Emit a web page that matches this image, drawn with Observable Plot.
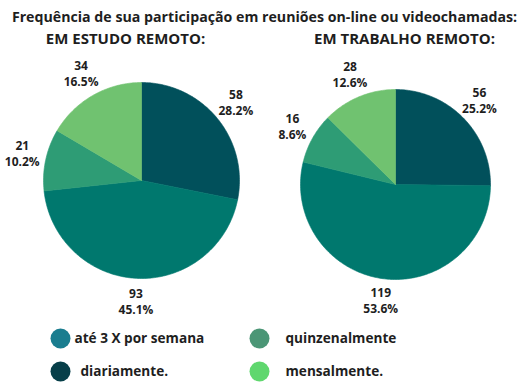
<!DOCTYPE html>
<html>
<head>
<meta charset="utf-8">
<script src="https://cdn.jsdelivr.net/npm/d3@7"></script>
<script src="https://cdn.jsdelivr.net/npm/@observablehq/plot@0.6"></script>
<style>
  html, body { margin: 0; padding: 0; background: #ffffff; }
  svg { display: block; }
</style>
</head>
<body>
<div id="chart"></div>
<script>
// ---- data ----
const title = "Frequência de sua participação em reuniões on-line ou videochamadas:";
const categories = ["diariamente.", "até 3 X por semana", "quinzenalmente", "mensalmente."];
const estudoValues = [58, 93, 21, 34];
const estudoPct = ["28.2%", "45.1%", "10.2%", "16.5%"];
const trabalhoValues = [56, 119, 16, 28];
const trabalhoPct = ["25.2%", "53.6%", "8.6%", "12.6%"];
const trabalhoShare = [25.2, 53.6, 8.6, 12.6];
const sliceColors = ["#01505b", "#00786e", "#2e9c75", "#70c270"];
const legendOrder = ["até 3 X por semana", "quinzenalmente", "diariamente.", "mensalmente."];
const legendColors = ["#1a7d8f", "#4b9676", "#073f49", "#5fd76e"];
const pieTitles = ["EM ESTUDO REMOTO:", "EM TRABALHO REMOTO:"];

// ---- layout ----
const W = 528, H = 392;
const font = "Open Sans";
const pies = [
  {name: pieTitles[0], cx: 141, cy: 180, r: 98, lab: 24, tx: 125, shares: estudoValues, values: estudoValues, pct: estudoPct},
  {name: pieTitles[1], cx: 395, cy: 184, r: 95, lab: 23, tx: 404, shares: trabalhoShare, values: trabalhoValues, pct: trabalhoPct}
];

const slicePts = [];
const labels = [];
pies.forEach((p, pi) => {
  const arcs = d3.pie().sort(null).value(d => d)(p.shares);
  arcs.forEach((a, i) => {
    const id = pi + "-" + i;
    slicePts.push({id, cat: categories[i], x: p.cx, y: p.cy});
    const n = Math.max(2, Math.ceil((a.endAngle - a.startAngle) / (Math.PI / 180)));
    for (let k = 0; k <= n; k++) {
      const t = a.startAngle + (a.endAngle - a.startAngle) * k / n;
      slicePts.push({id, cat: categories[i], x: p.cx + p.r * Math.sin(t), y: p.cy - p.r * Math.cos(t)});
    }
    slicePts.push({id, cat: categories[i], x: p.cx, y: p.cy});
    const m = (a.startAngle + a.endAngle) / 2;
    const lr = p.r + p.lab;
    labels.push({x: p.cx + lr * Math.sin(m), y: p.cy - lr * Math.cos(m), v: String(p.values[i]), pc: p.pct[i]});
  });
});

const titles = [
  {x: W / 2, y: 17, t: title, s: 14.2},
  {x: pies[0].tx, y: 39, t: pies[0].name, s: 15},
  {x: pies[1].tx, y: 39, t: pies[1].name, s: 15}
];

const legend = legendOrder.map((c, i) => ({
  cat: c,
  color: legendColors[i],
  x: i % 2 === 0 ? 60 : 259,
  y: i < 2 ? 338 : 371,
  tx: i % 2 === 0 ? (i === 0 ? 74 : 80) : 285
}));

const chart = Plot.plot({
  width: W,
  height: H,
  margin: 0,
  x: {domain: [0, W], range: [0, W], axis: null},
  y: {domain: [0, H], range: [0, H], axis: null},
  color: {domain: categories, range: sliceColors},
  style: {fontFamily: font, background: "#ffffff"},
  marks: [
    Plot.line(slicePts, {x: "x", y: "y", z: "id", fill: "cat", stroke: "cat", strokeWidth: 0.6, curve: "linear"}),
    Plot.text(titles, {x: "x", y: "y", text: "t", fontSize: "s", fontWeight: "bold", fill: "#1e1e1e", textAnchor: "middle"}),
    Plot.text(labels, {x: "x", y: "y", dy: -8, text: "v", fontSize: 12, fontWeight: "bold", fill: "#1e1e1e"}),
    Plot.text(labels, {x: "x", y: "y", dy: 8, text: "pc", fontSize: 12, fontWeight: "bold", fill: "#1e1e1e"}),
    Plot.dot(legend, {x: "x", y: "y", r: 10, fill: "color", stroke: null}),
    Plot.text(legend, {x: "tx", y: "y", text: "cat", fontSize: 13.6, fontWeight: "bold", fill: "#1e1e1e", textAnchor: "start"})
  ]
});
document.getElementById("chart").appendChild(chart);
</script>
</body>
</html>
